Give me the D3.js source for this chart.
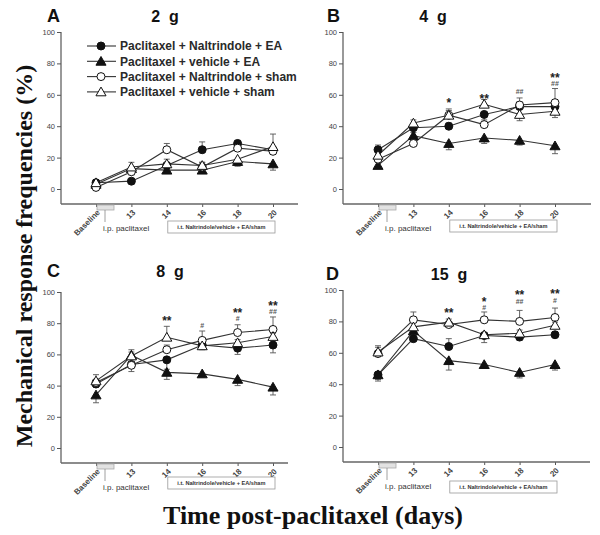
<!DOCTYPE html>
<html>
<head>
<meta charset="utf-8">
<script src="https://cdn.jsdelivr.net/npm/d3@7"></script>
<style>
  html, body { margin: 0; padding: 0; background: #fff; }
  svg { display: block; }
  text { font-family: "Liberation Sans", Arial, sans-serif; }
</style>
</head>
<body>
<svg id="chart" width="600" height="535"></svg>
<script>
// ---------------- DATA ----------------
const days = ["Baseline", "13", "14", "16", "18", "20"];
const seriesNames = [
  "Paclitaxel + Naltrindole + EA",
  "Paclitaxel + vehicle + EA",
  "Paclitaxel + Naltrindole + sham",
  "Paclitaxel + vehicle + sham"
];
const yTicks = [0, 20, 40, 60, 80, 100];

// Panel A (2 g)
const a_naltEA   = [4, 5, 15, 25, 29, 25];
const a_vehEA    = [3, 13, 12, 12, 17.5, 16];
const a_naltSham = [1, 11, 25, 14, 26, 24];
const a_vehSham  = [4, 14, 16, 15, 19, 27];
const a_errNaltEA   = [1, 1, 2, 5, 2, 2];
const a_errVehEA    = [1, -2, -2, -1, -3, -4];
const a_errNaltSham = [1, -2, 4, 3, 3, 3];
const a_errVehSham  = [1, 3, 3, 2, -4, 8];
const a_sig = [];

// Panel B (4 g)
const b_naltEA   = [25, 39, 40, 47.5, 52.5, 52.5];
const b_vehEA    = [15, 34, 29, 32.5, 31, 27.5];
const b_naltSham = [19, 29, 47, 41, 53.5, 55];
const b_vehSham  = [21.5, 42, 47, 54, 47.5, 49.5];
const b_errNaltEA   = [3, 2, 2, -5, 3, 3];
const b_errVehEA    = [-2, 2, -4, -3.5, -3, -5];
const b_errNaltSham = [3, 2, 3, 3, 4.5, 9];
const b_errVehSham  = [3, 2, 4, 3, -4, -4];
const b_sig = [["14", "*", 56.5], ["16", "**", 59.5], ["18", "##", 62], ["20", "**", 72.5], ["20", "##", 67.5]];

// Panel C (8 g)
const c_naltEA   = [41, 53.5, 56.5, 66, 64, 66];
const c_vehEA    = [34, 59.5, 48.5, 47.5, 44, 39];
const c_naltSham = [42, 53, 63, 69, 74, 76];
const c_vehSham  = [43, 59, 71, 65.5, 67.5, 71.5];
const c_errNaltEA   = [2, 2, -6, -3, -4, -5];
const c_errVehEA    = [-5, 2, -4.5, -2, -4, -5];
const c_errNaltSham = [-3, -4, 3, 6, 5, 8];
const c_errVehSham  = [4, 4, 7, -2, 2, 2];
const c_sig = [["14", "**", 83], ["16", "#", 78.5], ["18", "**", 88.5], ["18", "#", 83], ["20", "**", 93], ["20", "##", 87.5]];

// Panel D (15 g)
const d_naltEA   = [46, 69, 64, 71, 70, 71.5];
const d_vehEA    = [46, 74, 55, 52.5, 47.5, 52.5];
const d_naltSham = [59.5, 81, 78, 81, 80, 82.5];
const d_vehSham  = [60.5, 76.5, 79.5, 71.5, 72.5, 77.5];
const d_errNaltEA   = [-4, 2, 5, 2, -2, 2];
const d_errVehEA    = [-3, 2, -6, -2, -3.5, -3.5];
const d_errNaltSham = [4, 5, 2, 5, 7, 6];
const d_errVehSham  = [4, 3, 2, -5, 2, 2];
const d_sig = [["14", "**", 87.5], ["16", "*", 94.5], ["16", "#", 89], ["18", "**", 98.5], ["18", "##", 92.5], ["20", "**", 99.5], ["20", "#", 93.5]];

// ---------------- LAYOUT ----------------
const panels = [
  { letter: "A", title: "2  g", vals: [a_naltEA, a_vehEA, a_naltSham, a_vehSham],
    errs: [a_errNaltEA, a_errVehEA, a_errNaltSham, a_errVehSham], sig: a_sig,
    ax: 61, xEnd: 298, x0: 96, x1: 273, y0: 189, y100: 32, bottom: 204,
    letterX: 47, letterY: 22, titleX: 165, titleY: 22, boxY: 221, legend: true },
  { letter: "B", title: "4  g", vals: [b_naltEA, b_vehEA, b_naltSham, b_vehSham],
    errs: [b_errNaltEA, b_errVehEA, b_errNaltSham, b_errVehSham], sig: b_sig,
    ax: 343, xEnd: 591, x0: 378, x1: 555, y0: 189, y100: 32, bottom: 204,
    letterX: 327, letterY: 22, titleX: 433, titleY: 22, boxY: 220 },
  { letter: "C", title: "8  g", vals: [c_naltEA, c_vehEA, c_naltSham, c_vehSham],
    errs: [c_errNaltEA, c_errVehEA, c_errNaltSham, c_errVehSham], sig: c_sig,
    ax: 61, xEnd: 288, x0: 96, x1: 273, y0: 448, y100: 292, bottom: 463,
    letterX: 47, letterY: 277, titleX: 170, titleY: 277, boxY: 477 },
  { letter: "D", title: "15  g", vals: [d_naltEA, d_vehEA, d_naltSham, d_vehSham],
    errs: [d_errNaltEA, d_errVehEA, d_errNaltSham, d_errVehSham], sig: d_sig,
    ax: 343, xEnd: 590, x0: 378, x1: 555, y0: 447, y100: 290, bottom: 462,
    letterX: 326, letterY: 280, titleX: 449, titleY: 280, boxY: 481 }
];

const markerStyles = [
  { shape: d3.symbolCircle, fill: "#111", size: 50 },
  { shape: d3.symbolTriangle, fill: "#111", size: 44 },
  { shape: d3.symbolCircle, fill: "#fff", size: 50 },
  { shape: d3.symbolTriangle, fill: "#fff", size: 44 }
];

const svg = d3.select("#chart");
const lineColor = "#333";

panels.forEach(p => {
  const g = svg.append("g");
  const x = d3.scalePoint().domain(days).range([p.x0, p.x1]);
  const y = d3.scaleLinear().domain([0, 100]).range([p.y0, p.y100]);

  // Y axis
  const yAxis = d3.axisLeft(y).tickValues(yTicks).tickSize(4).tickSizeOuter(0);
  const yg = g.append("g").attr("transform", `translate(${p.ax},0)`).call(yAxis);
  yg.select(".domain").remove();
  yg.append("line").attr("x1", 0).attr("x2", 0).attr("y1", y(100)).attr("y2", p.bottom)
    .attr("stroke", "#555").attr("stroke-width", 1.2);
  yg.selectAll(".tick line").attr("stroke", "#555");
  yg.selectAll(".tick text").attr("font-size", 7.5).attr("fill", "#444")
    .attr("font-family", "Liberation Sans, Arial, sans-serif").attr("x", -6);

  // X axis
  const xAxis = d3.axisBottom(x).tickSize(3).tickSizeOuter(0);
  const xg = g.append("g").attr("transform", `translate(0,${p.bottom})`).call(xAxis);
  xg.select(".domain").remove();
  xg.append("line").attr("x1", p.ax).attr("x2", p.xEnd).attr("y1", 0).attr("y2", 0)
    .attr("stroke", "#666").attr("stroke-width", 1.4);
  xg.selectAll(".tick line").attr("stroke", "#555");
  xg.selectAll(".tick text")
    .attr("font-size", 8).attr("fill", "#444").attr("font-weight", "bold")
    .attr("font-family", "Liberation Sans, Arial, sans-serif")
    .attr("text-anchor", "end").attr("dy", null).attr("y", 0)
    .attr("transform", "translate(4,9) rotate(-45)");

  // i.p. paclitaxel marker
  const bx = x(days[0]);
  g.append("rect").attr("x", bx + 1).attr("y", p.bottom + 1).attr("width", 17).attr("height", 5)
    .attr("fill", "#e2e2e2").attr("stroke", "#aaa").attr("stroke-width", 0.8);
  g.append("line").attr("x1", bx + 9).attr("x2", bx + 9).attr("y1", p.bottom + 6).attr("y2", p.bottom + 18)
    .attr("stroke", "#888").attr("stroke-width", 0.8);
  g.append("text").attr("x", bx + 7).attr("y", p.bottom + 27).attr("font-size", 8).attr("fill", "#333")
    .text("i.p. paclitaxel");

  // treatment box
  const tx0 = x("14") + 1, tx1 = x("20") + 2;
  g.append("rect").attr("x", tx0).attr("y", p.boxY).attr("width", tx1 - tx0).attr("height", 12)
    .attr("fill", "#fff").attr("stroke", "#999").attr("stroke-width", 0.8);
  g.append("text").attr("x", (tx0 + tx1) / 2).attr("y", p.boxY + 8.3).attr("text-anchor", "middle")
    .attr("font-size", 5.6).attr("font-weight", "bold").attr("fill", "#333")
    .text("i.t. Naltrindole/vehicle + EA/sham");

  // lines
  const line = d3.line().x((d, i) => x(days[i])).y(d => y(d));
  p.vals.forEach(v => {
    g.append("path").attr("d", line(v)).attr("fill", "none")
      .attr("stroke", lineColor).attr("stroke-width", 1.1);
  });

  // error bars
  p.vals.forEach((v, si) => {
    v.forEach((val, i) => {
      const e = p.errs[si][i];
      const cx = x(days[i]);
      const yEnd = y(val + e);
      g.append("line").attr("x1", cx).attr("x2", cx).attr("y1", y(val)).attr("y2", yEnd)
        .attr("stroke", "#555").attr("stroke-width", 0.9);
      g.append("line").attr("x1", cx - 3).attr("x2", cx + 3).attr("y1", yEnd).attr("y2", yEnd)
        .attr("stroke", "#555").attr("stroke-width", 0.9);
    });
  });

  // markers
  p.vals.forEach((v, si) => {
    const ms = markerStyles[si];
    const sym = d3.symbol().type(ms.shape).size(ms.size);
    g.selectAll(null).data(v).enter().append("path")
      .attr("d", sym)
      .attr("transform", (d, i) => `translate(${x(days[i])},${y(d) + (ms.shape === d3.symbolTriangle ? 1 : 0)})`)
      .attr("fill", ms.fill).attr("stroke", "#111").attr("stroke-width", 1);
  });

  // significance marks
  p.sig.forEach(s => {
    const isStar = s[1].indexOf("*") >= 0;
    g.append("text").attr("x", x(s[0])).attr("y", y(s[2]))
      .attr("text-anchor", "middle")
      .attr("dy", isStar ? "0.58em" : "0.36em")
      .attr("font-size", isStar ? 12 : 7)
      .attr("font-weight", "bold")
      .attr("fill", isStar ? "#222" : "#555")
      .text(s[1]);
  });

  // panel letter and title
  g.append("text").attr("x", p.letterX).attr("y", p.letterY).attr("font-size", 18)
    .attr("font-weight", "bold").attr("fill", "#111").text(p.letter);
  g.append("text").attr("x", p.titleX).attr("y", p.titleY).attr("font-size", 16)
    .attr("text-anchor", "middle").style("white-space", "pre")
    .attr("font-weight", "bold").attr("fill", "#111").text(p.title);

  // legend
  if (p.legend) {
    seriesNames.forEach((name, si) => {
      const ly = 46 + si * 15.3;
      const ms = markerStyles[si];
      g.append("line").attr("x1", 87).attr("x2", 116).attr("y1", ly).attr("y2", ly)
        .attr("stroke", lineColor).attr("stroke-width", 1.1);
      g.append("path").attr("d", d3.symbol().type(ms.shape).size(ms.size))
        .attr("transform", `translate(101,${ly + (ms.shape === d3.symbolTriangle ? 1 : 0)})`)
        .attr("fill", ms.fill).attr("stroke", "#111").attr("stroke-width", 1);
      g.append("text").attr("x", 120).attr("y", ly + 4.3).attr("font-size", 12)
        .attr("font-weight", "bold").attr("fill", "#2a2a2a").text(name);
    });
  }
});

// axis titles
svg.append("text")
  .attr("transform", "translate(32,256) rotate(-90)")
  .attr("text-anchor", "middle")
  .style("font-family", "'Liberation Serif', 'Times New Roman', serif")
  .attr("font-size", 24).attr("font-weight", "bold").attr("fill", "#111")
  .text("Mechanical response frequencies (%)");

svg.append("text")
  .attr("x", 313).attr("y", 524)
  .attr("text-anchor", "middle")
  .style("font-family", "'Liberation Serif', 'Times New Roman', serif")
  .attr("font-size", 26).attr("font-weight", "bold").attr("fill", "#111")
  .text("Time post-paclitaxel (days)");
</script>
</body>
</html>
